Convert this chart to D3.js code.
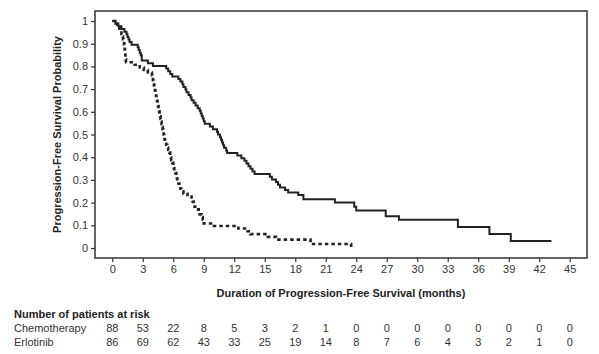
<!DOCTYPE html>
<html>
<head>
<meta charset="utf-8">
<script src="https://cdn.jsdelivr.net/npm/d3@7"></script>
<style>
  body { margin: 0; background: #fff; }
  svg { display: block; font-family: "Liberation Sans", Arial, sans-serif; }
</style>
</head>
<body>
<div id="showBox"></div>
<script>
// Erlotinib (solid) step points: time (months), survival
const erloTimes = [0, 0.3, 0.6, 0.9, 1.2, 1.4, 1.5, 1.6, 1.7, 1.9, 2.5, 2.6, 2.7, 2.8, 2.9, 3.5, 4.0, 5.3, 5.5, 5.7, 5.9,
  6.5, 6.7, 6.9, 7.0, 7.2, 7.3, 7.5, 7.7, 7.8, 8.0, 8.2, 8.4, 8.6, 8.7, 8.8, 8.9, 9.0, 9.1, 9.6, 9.9, 10.3, 10.4,
  10.6, 10.7, 10.8, 10.9, 11.0, 11.2, 11.3, 12.3, 12.7, 13.0, 13.2, 13.4, 13.6, 13.8, 14.0, 15.5, 15.7, 16.1, 16.3,
  16.5, 17.0, 17.3, 18.3, 18.8, 21.9, 23.8, 24.0, 26.9, 28.2, 34.0, 37.1, 39.2, 43.2];
const erloSurv = [1, 0.988, 0.977, 0.965, 0.953, 0.942, 0.930, 0.919, 0.907, 0.895, 0.884, 0.872, 0.860, 0.849, 0.826,
  0.814, 0.802, 0.791, 0.779, 0.767, 0.756, 0.744, 0.733, 0.721, 0.709, 0.698, 0.686, 0.674, 0.663, 0.651, 0.640,
  0.628, 0.616, 0.605, 0.593, 0.581, 0.570, 0.558, 0.547, 0.535, 0.523, 0.512, 0.500, 0.488, 0.477, 0.465, 0.453,
  0.442, 0.430, 0.419, 0.407, 0.395, 0.384, 0.372, 0.360, 0.349, 0.337, 0.326, 0.314, 0.302, 0.291, 0.279, 0.267,
  0.256, 0.244, 0.233, 0.215, 0.200, 0.182, 0.165, 0.140, 0.124, 0.093, 0.062, 0.031, 0.031];

// Chemotherapy (dashed)
const chemoTimes = [0, 0.3, 0.5, 0.7, 0.8, 0.9, 1.0, 1.05, 1.1, 1.15, 1.2, 1.22, 1.25, 1.28, 1.3, 1.32, 1.35, 2.2, 2.7,
  3.1, 3.5, 3.9, 3.95, 4.0, 4.05, 4.1, 4.15, 4.2, 4.25, 4.3, 4.35, 4.4, 4.45, 4.5, 4.55, 4.6, 4.65, 4.7, 4.75, 4.8,
  4.85, 4.9, 4.95, 5.0, 5.05, 5.1, 5.15, 5.2, 5.3, 5.4, 5.5, 5.6, 5.7, 5.75, 5.8, 5.9, 6.0, 6.05, 6.1, 6.2, 6.3,
  6.35, 6.4, 6.5, 6.6, 6.7, 6.8, 7.0, 7.4, 7.8, 7.9, 8.0, 8.1, 8.3, 8.5, 8.6, 8.8, 8.9, 9.0, 10.0, 12.4, 13.3,
  13.6, 15.3, 16.1, 19.5, 23.5];
const chemoSurv = [1, 0.989, 0.977, 0.966, 0.955, 0.943, 0.932, 0.920, 0.909, 0.898, 0.886, 0.875, 0.864, 0.852, 0.841,
  0.830, 0.818, 0.807, 0.795, 0.784, 0.773, 0.761, 0.750, 0.739, 0.727, 0.716, 0.705, 0.693, 0.682, 0.670, 0.659,
  0.648, 0.636, 0.625, 0.614, 0.602, 0.591, 0.580, 0.568, 0.557, 0.545, 0.534, 0.523, 0.511, 0.500, 0.489, 0.477,
  0.466, 0.455, 0.443, 0.432, 0.420, 0.409, 0.398, 0.386, 0.375, 0.364, 0.352, 0.341, 0.330, 0.318, 0.307, 0.295,
  0.284, 0.273, 0.261, 0.250, 0.239, 0.227, 0.216, 0.205, 0.193, 0.182, 0.170, 0.159, 0.148, 0.136, 0.125, 0.108,
  0.097, 0.086, 0.074, 0.061, 0.049, 0.037, 0.018, 0];

const xTicks = d3.range(0, 46, 3);
const yTicks = d3.range(0, 11).map(d => d / 10);
const riskLabels = ["Chemotherapy", "Erlotinib"];
const riskChemo = [88, 53, 22, 8, 5, 3, 2, 1, 0, 0, 0, 0, 0, 0, 0, 0];
const riskErlo = [86, 69, 62, 43, 33, 25, 19, 14, 8, 7, 6, 4, 3, 2, 1, 0];

const width = 599, height = 354;
const ink = "#222";

const svg = d3.select("#showBox").append("svg")
  .attr("width", width).attr("height", height);

const x = d3.scaleLinear().domain([-1.7, 46.7]).range([95, 587]);
const y = d3.scaleLinear().domain([-0.044, 1.044]).range([258, 11]);

// frame
svg.append("rect")
  .attr("x", x.range()[0]).attr("y", y.range()[1])
  .attr("width", x.range()[1] - x.range()[0])
  .attr("height", y.range()[0] - y.range()[1])
  .attr("fill", "none").attr("stroke", "#333").attr("stroke-width", 1.5);

// axes
const yAxis = svg.append("g")
  .attr("transform", `translate(${x.range()[0]},0)`)
  .call(d3.axisLeft(y).tickValues(yTicks).tickSize(4).tickPadding(3).tickFormat(d3.format("~g")));
const xAxis = svg.append("g")
  .attr("transform", `translate(0,${y.range()[0]})`)
  .call(d3.axisBottom(x).tickValues(xTicks).tickSize(4).tickPadding(3));

[xAxis, yAxis].forEach(g => {
  g.select(".domain").remove();
  g.selectAll(".tick line").attr("stroke", "#333").attr("stroke-width", 1.2);
  g.selectAll(".tick text").attr("fill", "#333").style("font-size", "11px")
    .style("font-family", "'Liberation Sans', Arial, sans-serif");
});

// curves
const line = d3.line()
  .x(d => x(d[0]))
  .y(d => y(d[1]))
  .curve(d3.curveStepAfter);

svg.append("path")
  .datum(d3.zip(chemoTimes, chemoSurv))
  .attr("d", line)
  .attr("fill", "none").attr("stroke", ink)
  .attr("stroke-width", 2.6).attr("stroke-dasharray", "3.5,3");

svg.append("path")
  .datum(d3.zip(erloTimes, erloSurv))
  .attr("d", line)
  .attr("fill", "none").attr("stroke", ink)
  .attr("stroke-width", 2);

// axis titles
svg.append("text")
  .attr("x", (x.range()[0] + x.range()[1]) / 2).attr("y", 297)
  .attr("text-anchor", "middle").attr("font-size", 11).attr("font-weight", "bold").attr("fill", ink)
  .text("Duration of Progression-Free Survival (months)");

svg.append("text")
  .attr("transform", `translate(61,${(y.range()[0] + y.range()[1]) / 2}) rotate(-90)`)
  .attr("text-anchor", "middle").attr("font-size", 11).attr("font-weight", "bold").attr("fill", ink)
  .text("Progression-Free Survival Probability");

// risk table
svg.append("text")
  .attr("x", 14).attr("y", 318)
  .attr("font-size", 11).attr("font-weight", "bold").attr("fill", ink)
  .text("Number of patients at risk");

[riskChemo, riskErlo].forEach((row, i) => {
  const yy = 332 + i * 14;
  svg.append("text")
    .attr("x", 14).attr("y", yy)
    .attr("font-size", 11).attr("fill", "#333")
    .text(riskLabels[i]);
  svg.append("g").selectAll("text")
    .data(row)
    .join("text")
    .attr("x", (d, j) => x(xTicks[j]))
    .attr("y", yy)
    .attr("text-anchor", "middle").attr("font-size", 11).attr("fill", "#333")
    .text(d => d);
});
</script>
</body>
</html>
